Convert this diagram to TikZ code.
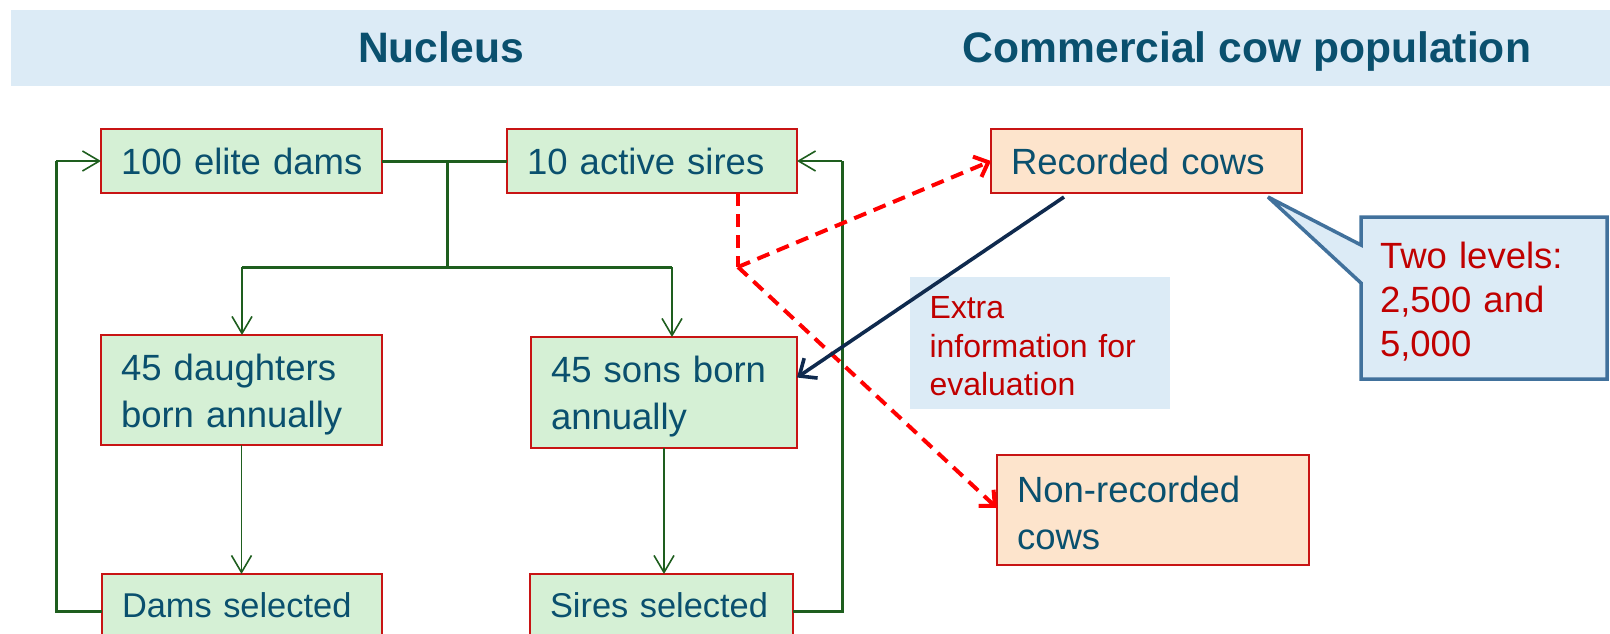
\documentclass[tikz,border=0pt]{standalone}
\usepackage{fontspec}
\setmainfont{Liberation Sans}
\usetikzlibrary{arrows.meta,calc}
\definecolor{txt}{RGB}{10,80,110}
\definecolor{bandblue}{RGB}{220,235,246}
\definecolor{bgreen}{RGB}{213,240,213}
\definecolor{bpeach}{RGB}{253,228,204}
\definecolor{bred}{RGB}{200,20,20}
\definecolor{lgreen}{RGB}{30,94,30}
\definecolor{navy}{RGB}{15,42,78}
\definecolor{cred}{RGB}{192,0,0}
\definecolor{cblue}{RGB}{65,113,156}
\newcommand\mybody{\fontsize{36.5}{47}\selectfont}
\newcommand\mybodys{\fontsize{34.4}{44}\selectfont}
\newcommand\mycall{\fontsize{36.5}{44}\selectfont}
\newcommand\mytitle{\fontsize{42.6}{50}\selectfont\bfseries}
\newcommand\mysmall{\fontsize{32}{38.5}\selectfont}
\newcommand\topstrut[1]{\rule{0pt}{#1}}
\begin{document}
\begin{tikzpicture}[x=1pt,y=-1pt,
 every node/.style={inner sep=0pt,outer sep=0pt},
 box/.style={draw=bred,line width=1.5pt,fill=bgreen,anchor=north west,inner xsep=20pt,inner ysep=0pt,align=left,text=txt,font=\mybody},
 pbox/.style={box,fill=bpeach},
 gline/.style={draw=lgreen,line width=3pt},
 garrow/.style={draw=lgreen,line width=1.6pt,-{Straight Barb[length=17pt,width=20pt]}},
 rdash/.style={draw=red,line width=4pt,dash pattern=on 13pt off 8pt},
 rarrow/.style={rdash,-{Straight Barb[length=12pt,width=22pt]}},
 narrow/.style={draw=navy,line width=3.6pt,-{Straight Barb[length=14pt,width=24pt]}},
 title/.style={anchor=base,text=txt,font=\mytitle}]
\useasboundingbox (0,0) rectangle (1610,633);
\clip (0,0) rectangle (1610,633);

% header band
\node[fill=bandblue,anchor=north west,minimum width=1599,minimum height=76] (band) at (11,10) {};
\node[title] (nuc) at (441,62.5) {Nucleus};
\node[title] (com) at (1247,62.5) {Commercial cow population};

% nucleus boxes
\node[box,minimum width=281,minimum height=64,text width=241] (dams) at (101,129) {\mbox{100 elite dams}};
\node[box,minimum width=290,minimum height=64,text width=250] (sires) at (507,129) {\mbox{10 active sires}};
\node[box,minimum width=281,minimum height=110,text width=241] (daught) at (101,335) {\topstrut{35pt}\mbox{45 daughters}\\\mbox{born annually}};
\node[box,minimum width=266,minimum height=111,text width=226] (sons) at (531,337) {\topstrut{35pt}\mbox{45 sons born}\\\mbox{annually}};
\node[box,font=\mybodys,minimum width=280,minimum height=62,text width=240] (damsel) at (102,574) {\mbox{Dams selected}};
\node[box,font=\mybodys,minimum width=263,minimum height=62,text width=223] (siresel) at (530,574) {\mbox{Sires selected}};

% commercial boxes
\node[pbox,minimum width=311,minimum height=64,text width=271] (rec) at (991,129) {\mbox{Recorded cows}};
\node[pbox,minimum width=312,minimum height=110,text width=272] (nonrec) at (997,455) {\topstrut{32pt}\mbox{Non-recorded}\\\mbox{cows}};

% extra info box
\node[fill=bandblue,anchor=north west,minimum width=260,minimum height=132,inner xsep=19.5pt,text width=221,align=left,text=cred,font=\mysmall] (extra) at (910,277) {\topstrut{29pt}\mbox{Extra}\\\mbox{information for}\\\mbox{evaluation}};

% callout
\coordinate (tip) at (1268,197);
\draw[draw=cblue,line width=3.5pt,fill=bandblue,line join=miter,miter limit=2]
  (1361,217) -- (1607,217) -- (1607,379) -- (1361,379) -- (1361,283) -- (tip) -- (1361,245) -- cycle;
\node[anchor=north west,minimum width=246,minimum height=162,inner xsep=19pt,text width=208,align=left,text=cred,font=\mycall] (callout) at (1361,217) {\topstrut{34pt}\mbox{Two levels:}\\\mbox{2,500 and}\\\mbox{5,000}};

% green connectors
\coordinate (mate) at (447,161);
\coordinate (brM) at (447,267);
\coordinate (brL) at (242,267);
\coordinate (brR) at (672,267);
\draw[gline] (dams.east) -- (sires.west);
\draw[gline] (mate) -- (brM);
\draw[gline] (brL) -- (brR);
\draw[garrow] (brL) -- (brL |- daught.north);
\draw[garrow] (brR) -- (brR |- sons.north);
\draw[garrow] (daught.south) -- (daught.south |- damsel.north);
\draw[garrow] (sons.south) -- (sons.south |- siresel.north);

\coordinate (loopL) at (56,161);
\coordinate (loopLb) at (56,611);
\draw[gline] (loopLb -| damsel.west) -- (loopLb) -- (loopL);
\draw[garrow] (loopL) -- (dams.west);

\coordinate (loopR) at (842,161);
\coordinate (loopRb) at (842,611);
\draw[gline] (loopRb -| siresel.east) -- (loopRb) -- (loopR);
\draw[garrow] (loopR) -- (sires.east);

% red dashed connectors
\coordinate (split) at (738,267);
\draw[rdash] (split |- sires.south) -- (split);
\draw[rarrow] (split) -- (rec.west);
\draw[rarrow] (split) -- ([yshift=2pt]nonrec.west);

% navy arrow
\coordinate (nstart) at (1064,197);
\draw[narrow] (nstart) -- ([yshift=15pt]sons.east);
\end{tikzpicture}
\end{document}
